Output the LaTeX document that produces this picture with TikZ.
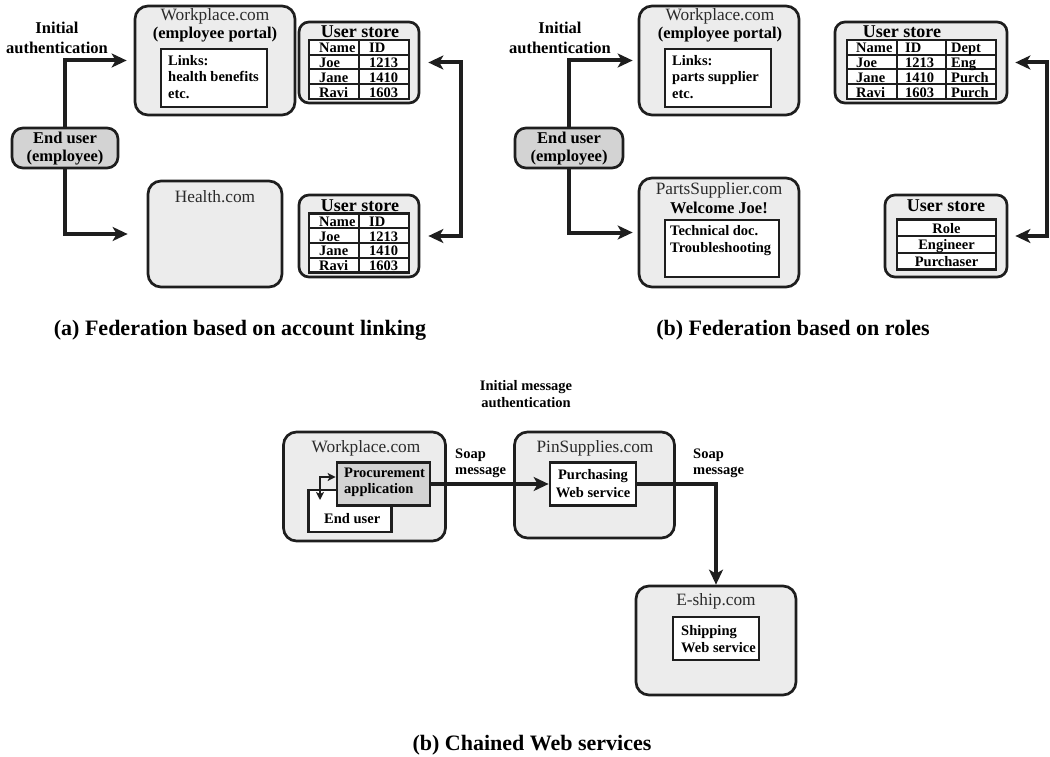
\documentclass[tikz,border=0pt]{standalone}
\usepackage{fontspec}
\setmainfont{Liberation Serif}
\usetikzlibrary{arrows.meta,calc}
\definecolor{boxfill}{HTML}{ECECEC}
\definecolor{userfill}{HTML}{D3D3D3}
\definecolor{edge}{HTML}{1E1E1E}
\definecolor{titlecol}{HTML}{2A2A2A}
\newcommand\mytitle{\fontsize{17.3}{19}\selectfont}
\newcommand\mysub{\fontsize{16.5}{19}\selectfont\bfseries}
\newcommand\myinner{\fontsize{14.5}{16.5}\selectfont\bfseries}
\newcommand\mystore{\fontsize{18}{20}\selectfont\bfseries}
\newcommand\mytab{\fontsize{14.5}{15}\selectfont\bfseries}
\newcommand\mycap{\fontsize{22}{24}\selectfont\bfseries}
\newcommand\mylab{\fontsize{16.5}{20}\selectfont\bfseries}
\newcommand\myclab{\fontsize{14.5}{17}\selectfont\bfseries}
% two-column account table: x0, y0
\newcommand\idtable[2]{%
  \fill[white] (#1,#2) rectangle ({#1+100},{#2+59});
  \foreach \kk in {1,2,3} {\draw[tabline] (#1,{#2+14.75*\kk}) -- ({#1+100},{#2+14.75*\kk});}
  \draw[tabline] ({#1+50},#2) -- ({#1+50},{#2+59});
  \draw[tabouter] (#1,#2) rectangle ({#1+100},{#2+59});
  \foreach \aa/\bb [count=\kk] in {Name/ID,Joe/1213,Jane/1410,Ravi/1603} {%
    \node[tabtext] at ({#1+10},{#2+14.75*\kk-1.8}) {\aa};
    \node[tabtext] at ({#1+60},{#2+14.75*\kk-1.8}) {\bb};}
}
\begin{document}
\begin{tikzpicture}[x=1pt,y=-1pt,
  site/.style={draw=edge, line width=2.7pt, fill=boxfill, rounded corners=13pt, inner sep=0pt},
  store/.style={draw=edge, line width=2.7pt, fill=boxfill, rounded corners=10pt, inner sep=0pt},
  user/.style={draw=edge, line width=2.7pt, fill=userfill, rounded corners=11pt, inner sep=0pt},
  inbox/.style={draw=edge, line width=2.7pt, fill=white, inner sep=0pt},
  procbox/.style={draw=edge, line width=2.7pt, fill=userfill, inner sep=0pt},
  flow/.style={draw=edge, line width=4pt, -{Stealth[length=15pt,width=14pt,inset=4pt]}},
  flowtwo/.style={draw=edge, line width=4pt, {Stealth[length=15pt,width=14pt,inset=4pt]}-{Stealth[length=15pt,width=14pt,inset=4pt]}},
  thinflow/.style={draw=edge, line width=2pt, {Stealth[length=8pt,width=8pt,inset=2pt]}-{Stealth[length=8pt,width=8pt,inset=2pt]}},
  tabline/.style={draw=edge, line width=2pt},
  tabouter/.style={draw=edge, line width=2.7pt},
  tabtext/.style={anchor=base west, inner sep=0pt, font=\mytab},
  ttl/.style={anchor=base, inner sep=0pt, font=\mytitle, text=titlecol},
  sub/.style={anchor=base, inner sep=0pt, font=\mysub},
  lab/.style={anchor=base, inner sep=0pt, font=\mylab},
  clab/.style={anchor=base, inner sep=0pt, font=\myclab},
  cleft/.style={anchor=base west, inner sep=0pt, font=\myclab},
  inl/.style={anchor=base west, inner sep=0pt, font=\myinner},
  stt/.style={anchor=base, inner sep=0pt, font=\mystore},
  captext/.style={anchor=base, inner sep=0pt, font=\mycap}]
\useasboundingbox (0,0) rectangle (1050,757);

% ================= (a) =================
\node[lab] (ia1) at (57,33.3) {Initial};
\node[lab] (ia2) at (57,53.3) {authentication};
\node[site, minimum width=160pt, minimum height=109pt] (wp1) at (215,60.5) {};
\node[ttl] (wp1t) at (215,21) {Workplace.com};
\node[sub] (wp1s) at (215,39) {(employee portal)};
\node[inbox, minimum width=106pt, minimum height=58pt] (lk1) at (214,78) {};
\node[inl] (lk1a) at (168,65.5) {Links:};
\node[inl] (lk1b) at (168,82) {health benefits};
\node[inl] (lk1c) at (168,98.5) {etc.};
\node[user, minimum width=106pt, minimum height=40pt] (eu1) at (65,148) {};
\node[sub] (eu1a) at (65,143.3) {End user};
\node[sub] (eu1b) at (65,162) {(employee)};
\node[site, minimum width=134pt, minimum height=106pt] (hl) at (215,234) {};
\node[ttl] (hlt) at (215,202) {Health.com};
\node[store, minimum width=120pt, minimum height=81pt] (us1) at (359,62.5) {};
\node[stt] (us1t) at (360,38) {User store};
\idtable{309}{40}
\node[store, minimum width=120pt, minimum height=82pt] (us1b) at (359,236) {};
\node[stt] (us1bt) at (360,211.5) {User store};
\idtable{309}{213.5}
\draw[flow, shorten >=7pt] (eu1.north) |- (wp1.west);
\draw[flow, shorten >=19pt] (eu1.south) |- (hl.west);
\draw[flowtwo, shorten <=8pt, shorten >=8pt] (us1.east) -- ++(41,0) |- (us1b.east);
\node[captext] (capa) at (240,335) {(a) Federation based on account linking};

% ================= (b) =================
\node[lab] (ib1) at (560,33.3) {Initial};
\node[lab] (ib2) at (560,53.3) {authentication};
\node[site, minimum width=160pt, minimum height=109pt] (wp2) at (719,60.5) {};
\node[ttl] (wp2t) at (720,21) {Workplace.com};
\node[sub] (wp2s) at (720,39) {(employee portal)};
\node[inbox, minimum width=106pt, minimum height=58pt] (lk2) at (718,78) {};
\node[inl] (lk2a) at (672,65.5) {Links:};
\node[inl] (lk2b) at (672,82) {parts supplier};
\node[inl] (lk2c) at (672,98.5) {etc.};
\node[user, minimum width=108pt, minimum height=40pt] (eu2) at (569,148) {};
\node[sub] (eu2a) at (569,143.3) {End user};
\node[sub] (eu2b) at (569,162) {(employee)};
\node[site, minimum width=160pt, minimum height=109pt] (ps) at (719,232.5) {};
\node[ttl] (pst) at (719,194) {PartsSupplier.com};
\node[sub] (pss) at (719,213) {Welcome Joe!};
\node[inbox, minimum width=114pt, minimum height=57pt] (td) at (722,248.5) {};
\node[inl] (tda) at (670,235) {Technical doc.};
\node[inl] (tdb) at (670,252) {Troubleshooting};
% user store with departments
\node[store, minimum width=172pt, minimum height=81pt] (us2) at (921,62.5) {};
\node[stt] (us2t) at (902,38) {User store};
\fill[white] (847,40) rectangle (996,99);
\foreach \kk in {1,2,3} {\draw[tabline] (847,{40+14.75*\kk}) -- (996,{40+14.75*\kk});}
\draw[tabline] (897,40) -- (897,99);
\draw[tabline] (946,40) -- (946,99);
\draw[tabouter] (847,40) rectangle (996,99);
\foreach \aa/\bb/\cc [count=\kk] in {Name/ID/Dept,Joe/1213/Eng,Jane/1410/Purch,Ravi/1603/Purch} {%
  \node[tabtext] at (856,{40+14.75*\kk-1.8}) {\aa};
  \node[tabtext] at (905,{40+14.75*\kk-1.8}) {\bb};
  \node[tabtext] at (951,{40+14.75*\kk-1.8}) {\cc};}
% role store
\node[store, minimum width=122pt, minimum height=82pt] (us2b) at (946,236) {};
\node[stt] (us2bt) at (946,211.5) {User store};
\fill[white] (897,219.5) rectangle (996,269.5);
\foreach \kk in {1,2} {\draw[tabline] (897,{219.5+16.67*\kk}) -- (996,{219.5+16.67*\kk});}
\draw[tabouter] (897,219.5) rectangle (996,269.5);
\foreach \aa [count=\kk] in {Role,Engineer,Purchaser} {%
  \node[anchor=base, inner sep=0pt, font=\mytab] at (946.5,{219.5+16.67*\kk-3}) {\aa};}
\draw[flow, shorten >=5pt] (eu2.north) |- (wp2.west);
\draw[flow, shorten >=5pt] (eu2.south) |- (ps.west);
\draw[flowtwo, shorten <=7pt, shorten >=7pt] (us2.east) -- ++(39,0) |- (us2b.east);
\node[captext] (capb) at (793,335) {(b) Federation based on roles};

% ================= (c) =================
\node[clab] (im1) at (526,390) {Initial message};
\node[clab] (im2) at (526,407.5) {authentication};
\node[site, minimum width=162pt, minimum height=109pt] (wp3) at (364.5,486.5) {};
\node[ttl] (wp3t) at (366,452) {Workplace.com};
\node[inbox, minimum width=83pt, minimum height=42pt] (eu3) at (350,511) {};
\node[cleft] (eu3t) at (324,523.5) {End user};
\node[procbox, minimum width=93pt, minimum height=43pt] (proc) at (383.5,484) {};
\node[cleft] (proca) at (344,477.5) {Procurement};
\node[cleft] (procb) at (344,493.5) {application};
\coordinate (c1) at (320,477);
\coordinate (c2) at (320,500);
\draw[thinflow] (c2) -- (c1) -- (proc.west |- c1);
\node[cleft] (s1a) at (455,458) {Soap};
\node[cleft] (s1b) at (455,474) {message};
\node[site, minimum width=160pt, minimum height=106pt] (pin) at (594.5,485) {};
\node[ttl] (pint) at (595,452) {PinSupplies.com};
\node[inbox, minimum width=86pt, minimum height=43pt] (purch) at (593,484) {};
\node[clab] (pua) at (593,479.5) {Purchasing};
\node[clab] (pub) at (593,497) {Web service};
\node[cleft] (s2a) at (693,458) {Soap};
\node[cleft] (s2b) at (693,474) {message};
\node[site, minimum width=160pt, minimum height=109pt] (esh) at (716,640.5) {};
\node[ttl] (esht) at (716,605) {E-ship.com};
\node[inbox, minimum width=86pt, minimum height=43pt] (ship) at (716,638.5) {};
\node[cleft] (sha) at (681,635) {Shipping};
\node[cleft] (shb) at (681,652) {Web service};
\draw[flow] (proc.east) -- (purch.west);
\draw[flow] (purch.east) -| (esh.north);
\node[captext] (capc) at (532,750) {(b) Chained Web services};
\end{tikzpicture}
\end{document}
